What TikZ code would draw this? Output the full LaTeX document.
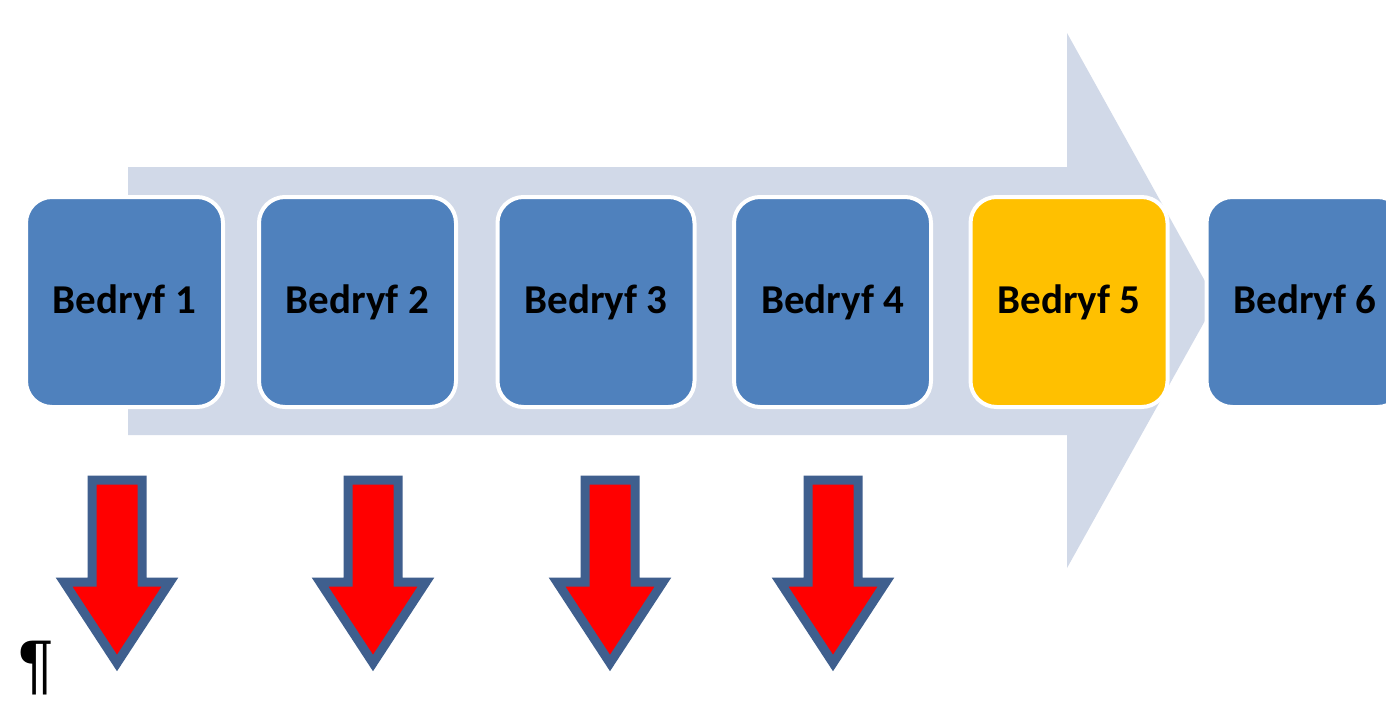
\documentclass[tikz,border=0pt]{standalone}
\usepackage{fontspec}
\setmainfont{Carlito}
\newfontfamily\pilfont{Liberation Sans}
\definecolor{bgarrow}{HTML}{D1D9E8}
\definecolor{boxblue}{HTML}{4F81BD}
\definecolor{boxyellow}{HTML}{FFC000}
\definecolor{arrowedge}{HTML}{3F5F8E}
\definecolor{arrowred}{HTML}{FF0000}
\begin{document}
\begin{tikzpicture}[x=1pt,y=-1pt,
  stage/.style={draw=white, line width=4pt, fill=boxblue, rounded corners=26pt,
    minimum width=197pt, minimum height=210pt, inner sep=0pt,
    font=\fontsize{41}{46}\selectfont\bfseries, text=black},
  hot/.style={stage, fill=boxyellow},
  redarrow/.style={fill=arrowred, draw=arrowedge, line width=9pt, line join=miter}]
\useasboundingbox (0,0) rectangle (1386,710);
\clip (0,0) rectangle (1386,710);
\fill[white] (0,0) rectangle (1386,710);
% big background arrow
\fill[bgarrow] (128,167) -- (1067,167) -- (1067,33) -- (1216,301) -- (1067,568)
  -- (1067,435) -- (128,435) -- cycle;
% stages
\node[stage] (b1) at (124.5,302) {Bedryf 1};
\node[stage] (b2) at (357.5,302) {Bedryf 2};
\node[stage] (b3) at (596,302) {Bedryf 3};
\node[stage] (b4) at (832.5,302) {Bedryf 4};
\node[hot]   (b5) at (1069,302) {Bedryf 5};
\node[stage] (b6) at (1305,302) {Bedryf 6};
% red down arrows
\foreach \cx in {117,373,610,833}{
  \draw[redarrow] (\cx-25,480) -- (\cx+25,480) -- (\cx+25,582) -- (\cx+53,582)
    -- (\cx,663) -- (\cx-53,582) -- (\cx-25,582) -- cycle;
}
% pilcrow
\node[font=\pilfont\fontsize{66}{68}\selectfont, inner sep=0pt, anchor=center] (pil) at (36,668) {¶};
\end{tikzpicture}
\end{document}
